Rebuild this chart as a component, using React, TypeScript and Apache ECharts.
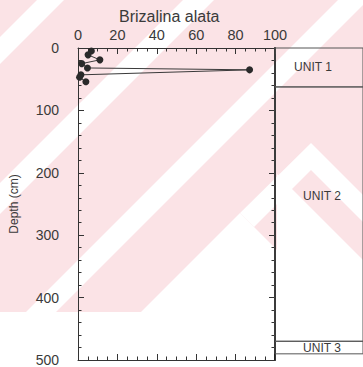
import React, { useEffect, useRef } from "react";
import * as echarts from "echarts";

// Brizalina alata abundance (%) vs depth (cm)
const percentValues = [6.8, 5.1, 11.1, 1.9, 4.8, 87.1, 1.5, 0.8, 4.0];
const depthValues = [4.8, 11, 19, 25, 32, 35, 43, 47, 54];

const xTicks = [0, 20, 40, 60, 80, 100];
const yTicks = [0, 100, 200, 300, 400, 500];

const unitNames = ["UNIT 1", "UNIT 2", "UNIT 3"];
const unitTops = [0, 62, 467];
const unitBottoms = [62, 467, 487];

const INK = "#333";
const PINK = "#fbe3e6";

export default function App() {
  const ref = useRef<HTMLDivElement>(null);
  useEffect(() => {
    if (!ref.current) return;
    const chart = echarts.init(ref.current, undefined, { renderer: "svg" });

    const bg = (points: number[][]) => ({
      type: "polygon",
      z: -100,
      silent: true,
      shape: { points },
      style: { fill: "#ffffff" },
    });

    const tickCommon = {
      axisLine: { show: true, onZero: false, lineStyle: { color: INK, width: 1 } },
      axisTick: { show: true, inside: true, length: 6, lineStyle: { color: INK } },
      minorTick: { show: true, length: 3.5, lineStyle: { color: INK } },
      splitLine: { show: false },
    };

    const unitLabelOffsets = [[-6, 0], [3, -18], [3, 0]];

    chart.setOption({
      animation: false,
      backgroundColor: "#ffffff",
      title: {
        text: "Brizalina alata",
        left: 119,
        top: 8,
        padding: 0,
        textStyle: { fontFamily: "Liberation Sans, Arial", fontSize: 16, fontWeight: "normal", color: "#3a3a3a" },
      },
      graphic: [
        { type: "rect", z: -101, silent: true, shape: { x: 0, y: 0, width: 363, height: 312 }, style: { fill: PINK } },
        bg([[37, 0], [64, 0], [0, 64], [0, 37]]),
        bg([[183, 0], [214, 0], [0, 214], [0, 183]]),
        bg([[338, 0], [368, 0], [56, 312], [26, 312]]),
        bg([[240, 213], [141, 312], [339, 312]]),
        bg([[240, 213], [311, 143], [363, 195], [363, 222], [311, 170], [254, 227]]),
        bg([[277, 174], [363, 260], [363, 312], [277, 312]]),
      ],
      grid: [
        { left: 77, right: 88, top: 48, bottom: 5 },
        { left: 275, right: -10, top: 48, bottom: 5 },
      ],
      xAxis: [
        {
          gridIndex: 0,
          type: "value",
          position: "top",
          min: xTicks[0],
          max: xTicks[xTicks.length - 1],
          interval: 20,
          ...tickCommon,
          minorTick: { ...tickCommon.minorTick, splitNumber: 4 },
          axisLabel: { fontFamily: "Liberation Sans, Arial", fontSize: 14.5, color: "#3a3a3a", margin: 6 },
        },
        {
          gridIndex: 0,
          type: "value",
          position: "bottom",
          min: xTicks[0],
          max: xTicks[xTicks.length - 1],
          interval: 20,
          ...tickCommon,
          minorTick: { ...tickCommon.minorTick, splitNumber: 4 },
          axisLabel: { show: false },
        },
        { gridIndex: 1, type: "value", min: 0, max: 1, show: false },
      ],
      yAxis: [
        {
          gridIndex: 0,
          type: "value",
          inverse: true,
          position: "left",
          min: yTicks[0],
          max: yTicks[yTicks.length - 1],
          interval: 100,
          name: "Depth (cm)",
          nameLocation: "middle",
          nameGap: 58,
          nameRotate: 90,
          nameTextStyle: { fontFamily: "Liberation Sans, Arial", fontSize: 12, color: "#3a3a3a" },
          ...tickCommon,
          minorTick: { ...tickCommon.minorTick, splitNumber: 5 },
          axisLabel: { fontFamily: "Liberation Sans, Arial", fontSize: 14, color: "#3a3a3a", margin: 19 },
        },
        {
          gridIndex: 0,
          type: "value",
          inverse: true,
          position: "right",
          min: yTicks[0],
          max: yTicks[yTicks.length - 1],
          interval: 100,
          ...tickCommon,
          axisLine: { show: true, onZero: false, lineStyle: { color: "#222", width: 2 } },
          minorTick: { ...tickCommon.minorTick, splitNumber: 5 },
          axisLabel: { show: false },
        },
        { gridIndex: 1, type: "value", inverse: true, min: 0, max: 500, show: false },
      ],
      series: [
        {
          type: "line",
          xAxisIndex: 0,
          yAxisIndex: 0,
          data: percentValues.map((v, i) => [v, depthValues[i]]),
          symbol: "circle",
          symbolSize: 7,
          lineStyle: { color: "#3a3a3a", width: 1 },
          itemStyle: { color: "#2a2a2a" },
        },
        {
          type: "line",
          xAxisIndex: 2,
          yAxisIndex: 2,
          data: [],
          markArea: {
            silent: true,
            data: unitNames.map((name, i) => [
              {
                name,
                xAxis: 0,
                yAxis: unitTops[i],
                label: { offset: unitLabelOffsets[i] },
              },
              { xAxis: 1, yAxis: unitBottoms[i] },
            ]),
            itemStyle: { color: "rgba(0,0,0,0)", borderColor: "#555", borderWidth: 1 },
            label: {
              show: true,
              position: "inside",
              fontFamily: "Liberation Sans, Arial",
              fontSize: 12,
              color: "#3a3a3a",
            },
          },
        },
      ],
    });
    return () => chart.dispose();
  }, []);
  return <div ref={ref} style={{ position: "fixed", left: 0, top: 0, width: 363, height: 367 }} />;
}
